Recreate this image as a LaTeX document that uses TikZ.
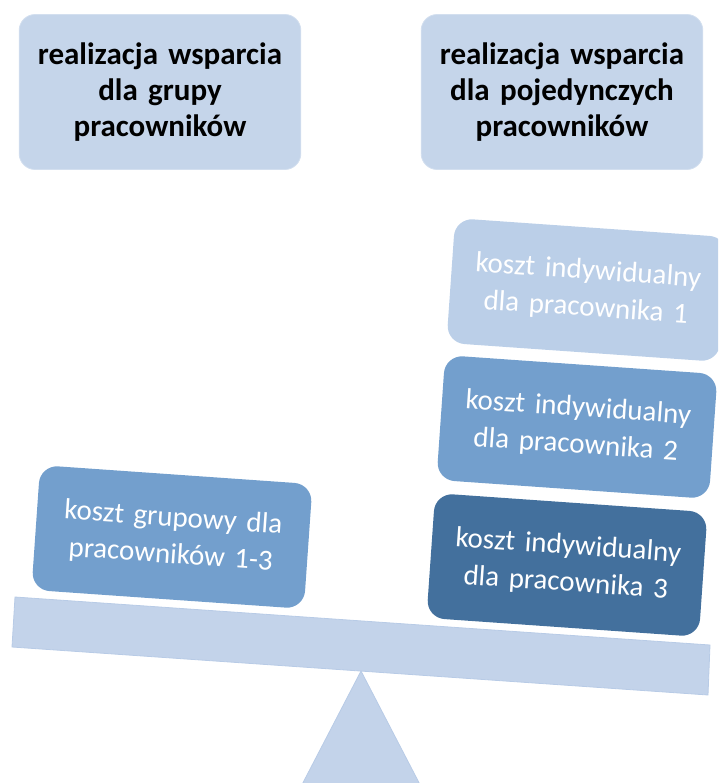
\documentclass[tikz,border=0pt]{standalone}
\usepackage{fontspec}
\setmainfont{Carlito}
\definecolor{toplt}{HTML}{C5D5EA}
\definecolor{topbd}{HTML}{D3DFEF}
\definecolor{beamc}{HTML}{C3D3EA}
\definecolor{beambd}{HTML}{B8CBE6}
\definecolor{lightbox}{HTML}{BBCFE8}
\definecolor{midbox}{HTML}{739FCD}
\definecolor{darkbox}{HTML}{43709D}
\tikzset{
  headbox/.style={draw=topbd, line width=0.8pt, fill=toplt, rounded corners=16pt,
    minimum width=281pt, minimum height=155pt, align=center, text width=275pt,
    font=\fontsize{31}{36}\selectfont\bfseries, text=black},
  costbox/.style={rounded corners=18pt, rotate=-4, minimum width=273pt,
    minimum height=125pt, align=center, text width=265pt, text=white,
    font=\fontsize{29}{37}\selectfont},
}
\begin{document}
\begin{tikzpicture}[x=1pt,y=-1pt]
\useasboundingbox (0,0) rectangle (718,783);
\clip (0,0) rectangle (718,783);
\node[headbox] (hl) at (160,92) {realizacja wsparcia\\dla grupy\\pracowników};
\node[headbox] (hr) at (562,92) {realizacja wsparcia\\dla pojedynczych\\pracowników};
% fulcrum
\coordinate (apex) at (361,671);
\coordinate (bl) at (294,800);
\coordinate (br) at (428,800);
\fill[beamc, draw=beambd, line width=0.8pt] (apex) -- (br) -- (bl) -- cycle;
% beam
\coordinate (b1) at (15,597);
\coordinate (b2) at (710,645);
\coordinate (b3) at (708,695);
\coordinate (b4) at (12,647);
\fill[beamc, draw=beambd, line width=0.8pt] (b1) -- (b2) -- (b3) -- (b4) -- cycle;
% cost boxes
\node[costbox, fill=midbox] (grp) at (172,537) {koszt grupowy dla\\pracowników 1-3};
\node[costbox, fill=lightbox] (p1) at (587,290) {koszt indywidualny\\dla pracownika 1};
\node[costbox, fill=midbox] (p2) at (577,427) {koszt indywidualny\\dla pracownika 2};
\node[costbox, fill=darkbox] (p3) at (567,565) {koszt indywidualny\\dla pracownika 3};
\end{tikzpicture}
\end{document}
